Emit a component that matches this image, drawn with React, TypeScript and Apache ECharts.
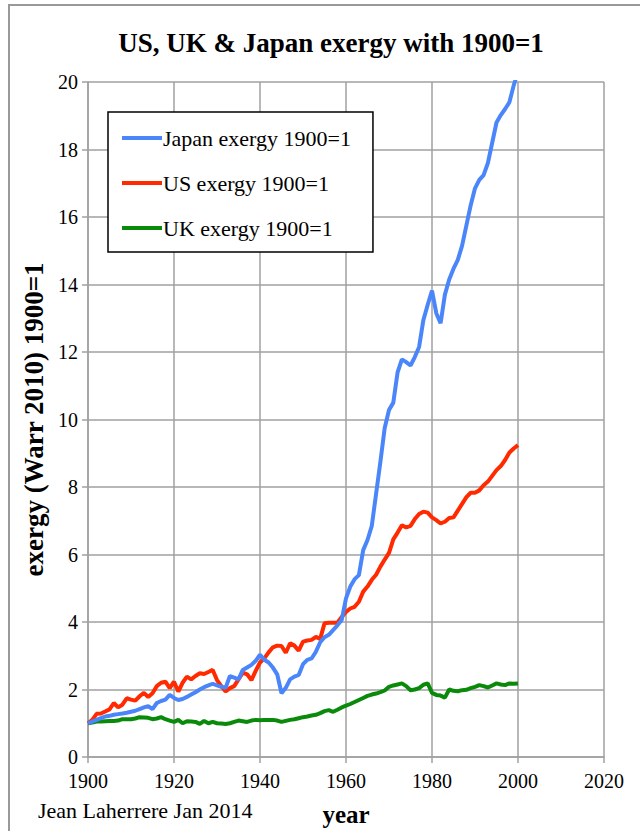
import React, { useEffect, useRef } from "react";
import * as echarts from "echarts";

const years: number[] = [];
for (let y = 1900; y <= 2000; y++) years.push(y);

const japan = [
  1.0, 1.05, 1.1, 1.15, 1.2, 1.22, 1.25, 1.27, 1.29, 1.31,
  1.34, 1.37, 1.42, 1.47, 1.51, 1.42, 1.6, 1.66, 1.7, 1.84,
  1.75, 1.69, 1.72, 1.78, 1.85, 1.92, 2.0, 2.07, 2.12, 2.17,
  2.12, 2.08, 2.05, 2.4, 2.35, 2.3, 2.58, 2.65, 2.73, 2.85,
  3.03, 2.88, 2.8, 2.65, 2.45, 1.89, 2.05, 2.3, 2.38, 2.43,
  2.75, 2.88, 2.92, 3.12, 3.4, 3.55, 3.62, 3.76, 3.9, 4.06,
  4.7, 5.05, 5.27, 5.39, 6.13, 6.43, 6.85, 7.8, 8.75, 9.75,
  10.28, 10.5, 11.4, 11.78, 11.7, 11.6, 11.85, 12.15, 12.95, 13.4,
  13.82, 13.15, 12.85, 13.7, 14.15, 14.47, 14.73, 15.15, 15.75, 16.35,
  16.85, 17.1, 17.24, 17.6, 18.2, 18.8, 19.02, 19.2, 19.4, 19.9,
  20.3,
];

const us = [
  1.0, 1.1, 1.28, 1.29, 1.35, 1.41, 1.6, 1.47, 1.55, 1.74,
  1.7, 1.67, 1.8, 1.9, 1.78, 1.89, 2.1, 2.2, 2.23, 2.04,
  2.23, 1.94, 2.2, 2.38, 2.3, 2.4, 2.48, 2.46, 2.52, 2.58,
  2.28, 2.1, 1.94, 2.04, 2.1, 2.3, 2.5, 2.45, 2.28, 2.55,
  2.8, 2.92, 3.1, 3.25, 3.3, 3.29, 3.09, 3.37, 3.3, 3.15,
  3.42, 3.45, 3.47, 3.56, 3.5, 3.96, 3.98, 3.98, 3.98, 4.15,
  4.3, 4.4, 4.45, 4.6, 4.9, 5.05, 5.25, 5.4, 5.64, 5.85,
  6.05, 6.45, 6.65, 6.87, 6.8, 6.85, 7.05, 7.2, 7.27, 7.24,
  7.1, 7.02, 6.92, 6.97, 7.08, 7.1, 7.3, 7.5, 7.7, 7.83,
  7.83, 7.9, 8.05, 8.16, 8.33, 8.5, 8.62, 8.8, 9.02, 9.14,
  9.24,
];

const uk = [
  1.0, 1.02, 1.05, 1.05, 1.06, 1.07, 1.07, 1.08, 1.12, 1.12,
  1.12, 1.14, 1.18, 1.17, 1.16, 1.12, 1.14, 1.18, 1.12, 1.08,
  1.04, 1.1, 1.0, 1.06, 1.05, 1.04, 0.98, 1.07, 1.0, 1.04,
  1.0, 0.99, 0.98, 1.0, 1.04, 1.08, 1.06, 1.04, 1.08, 1.1,
  1.09, 1.1, 1.1, 1.1, 1.08, 1.04, 1.07, 1.1, 1.12, 1.15,
  1.18, 1.2, 1.23, 1.25, 1.3, 1.36, 1.39, 1.34, 1.4, 1.47,
  1.52, 1.57, 1.63, 1.69, 1.75, 1.81, 1.85, 1.88, 1.92, 1.97,
  2.08, 2.12, 2.15, 2.18, 2.1, 1.98, 2.0, 2.04, 2.14, 2.18,
  1.9, 1.84, 1.82, 1.76, 2.0, 1.96, 1.95, 1.98, 1.99, 2.04,
  2.08, 2.13, 2.1, 2.06, 2.12, 2.18, 2.15, 2.13, 2.18, 2.17,
  2.18,
];

const seriesNames = ["Japan exergy 1900=1", "US exergy 1900=1", "UK exergy 1900=1"];
const seriesColors = ["#4a86fa", "#ff2a00", "#0a8a0a"];
const seriesValues = [japan, us, uk];

const FONT = "Liberation Serif";

export default function App() {
  const ref = useRef<HTMLDivElement>(null);
  useEffect(() => {
    if (!ref.current) return;
    const chart = echarts.init(ref.current, null, { renderer: "svg" });
    const gridColor = "#a0a0a0";
    chart.setOption({
      animation: false,
      backgroundColor: "#ffffff",
      textStyle: { fontFamily: FONT },
      grid: {
        left: 88,
        right: 36,
        top: 82,
        bottom: 74,
        containLabel: false,
        outerBoundsMode: "none",
      },
      legend: {
        orient: "vertical",
        left: 108,
        top: 112,
        data: seriesNames,
        itemWidth: 40,
        itemHeight: 10,
        itemGap: 23,
        padding: [15, 22, 13, 14],
        borderColor: "#000",
        borderWidth: 1.5,
        backgroundColor: "#fff",
        icon: "path://M0,0 L40,0 L40,4 L0,4 Z",
        textStyle: { fontFamily: FONT, fontSize: 22, color: "#000", padding: [0, 0, 0, -4] },
      },
      xAxis: {
        type: "value",
        min: 1900,
        max: 2020,
        interval: 20,
        name: "year",
        nameLocation: "middle",
        nameGap: 45,
        nameTextStyle: { fontFamily: FONT, fontSize: 25, fontWeight: "bold", color: "#000" },
        axisLine: { show: true, lineStyle: { color: gridColor, width: 1.5 } },
        axisTick: { show: true, length: 6, lineStyle: { color: gridColor, width: 1.5 } },
        axisLabel: {
          fontFamily: FONT,
          fontSize: 20,
          color: "#000",
          margin: 14,
          formatter: (v: number) => String(v),
        },
        splitLine: { show: true, lineStyle: { color: gridColor, width: 1.5 } },
      },
      yAxis: {
        type: "value",
        min: 0,
        max: 20,
        interval: 2,
        name: "exergy (Warr 2010) 1900=1",
        nameLocation: "middle",
        nameGap: 41,
        nameRotate: 90,
        nameTextStyle: { fontFamily: FONT, fontSize: 27, fontWeight: "bold", color: "#000" },
        axisLine: { show: true, lineStyle: { color: gridColor, width: 1.5 } },
        axisTick: { show: true, length: 6, lineStyle: { color: gridColor, width: 1.5 } },
        axisLabel: { fontFamily: FONT, fontSize: 20, color: "#000", margin: 10 },
        splitLine: { show: true, lineStyle: { color: gridColor, width: 1.5 } },
      },
      series: seriesNames.map((name, i) => ({
        name,
        type: "line",
        showSymbol: false,
        symbol: "none",
        clip: true,
        color: seriesColors[i],
        lineStyle: { color: seriesColors[i], width: 4 },
        data: years.map((y, k) => [y, seriesValues[i][k]]),
        z: 3 - i,
      })),
      graphic: [
        {
          type: "rect",
          shape: { x: 9, y: 5, width: 700, height: 900 },
          style: { fill: "none", stroke: "#999", lineWidth: 2 },
          silent: true,
        },
        {
          type: "text",
          x: 331,
          y: 43,
          style: {
            text: "US, UK & Japan exergy with 1900=1",
            font: `bold 27px ${FONT}`,
            fill: "#000",
            textAlign: "center",
            textVerticalAlign: "middle",
          },
        },
        {
          type: "text",
          x: 38,
          y: 810,
          style: {
            text: "Jean Laherrere Jan 2014",
            font: `22px ${FONT}`,
            fill: "#000",
            textAlign: "left",
            textVerticalAlign: "middle",
          },
        },
      ],
    });
    return () => chart.dispose();
  }, []);
  return (
    <div
      ref={ref}
      style={{ position: "fixed", left: 0, top: 0, width: 640, height: 831 }}
    />
  );
}
